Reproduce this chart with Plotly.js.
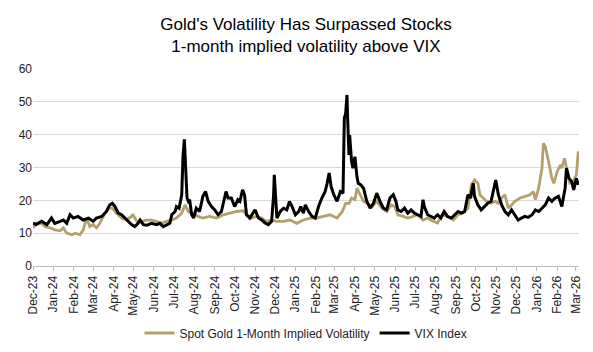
<!DOCTYPE html>
<html>
<head>
<meta charset="utf-8">
<script src="https://cdn.plot.ly/plotly-3.0.1.min.js"></script>
<style>html,body{margin:0;padding:0;background:#fff;}#chart{width:593px;height:352px;}</style>
</head>
<body>
<div id="chart"></div>
<script>
const titleLines = ["Gold's Volatility Has Surpassed Stocks", "1-month implied volatility above VIX"];
const goldName = "Spot Gold 1-Month Implied Volatility";
const vixName = "VIX Index";

const vixDates = ["2023-12-01","2023-12-06","2023-12-14","2023-12-22","2023-12-29","2024-01-03","2024-01-11","2024-01-16","2024-01-21","2024-01-26","2024-01-31","2024-02-07","2024-02-15","2024-02-23","2024-03-01","2024-03-06","2024-03-14","2024-03-21","2024-03-26","2024-03-30","2024-04-03","2024-04-08","2024-04-13","2024-04-18","2024-04-23","2024-04-28","2024-05-03","2024-05-08","2024-05-11","2024-05-16","2024-05-21","2024-05-28","2024-06-05","2024-06-10","2024-06-15","2024-06-20","2024-06-25","2024-06-28","2024-07-03","2024-07-05","2024-07-09","2024-07-13","2024-07-15","2024-07-17","2024-07-19","2024-07-21","2024-07-23","2024-07-25","2024-07-28","2024-07-31","2024-08-04","2024-08-09","2024-08-14","2024-08-18","2024-08-22","2024-08-27","2024-09-01","2024-09-06","2024-09-11","2024-09-14","2024-09-18","2024-09-21","2024-09-26","2024-10-01","2024-10-06","2024-10-09","2024-10-13","2024-10-16","2024-10-19","2024-10-24","2024-11-01","2024-11-06","2024-11-11","2024-11-16","2024-11-21","2024-11-26","2024-11-29","2024-11-30","2024-12-02","2024-12-04","2024-12-09","2024-12-14","2024-12-19","2024-12-23","2024-12-27","2025-01-01","2025-01-06","2025-01-09","2025-01-13","2025-01-16","2025-01-21","2025-01-26","2025-01-31","2025-02-05","2025-02-10","2025-02-15","2025-02-18","2025-02-21","2025-02-24","2025-02-28","2025-03-05","2025-03-10","2025-03-14","2025-03-16","2025-03-18","2025-03-20","2025-03-21","2025-03-23","2025-03-24","2025-03-27","2025-03-29","2025-04-01","2025-04-04","2025-04-06","2025-04-10","2025-04-14","2025-04-19","2025-04-24","2025-04-29","2025-05-04","2025-05-09","2025-05-14","2025-05-19","2025-05-24","2025-05-29","2025-06-02","2025-06-05","2025-06-10","2025-06-15","2025-06-20","2025-06-25","2025-06-30","2025-07-05","2025-07-10","2025-07-13","2025-07-15","2025-07-20","2025-07-25","2025-07-30","2025-08-04","2025-08-09","2025-08-14","2025-08-19","2025-08-25","2025-08-30","2025-09-04","2025-09-09","2025-09-14","2025-09-19","2025-09-23","2025-09-27","2025-09-29","2025-10-04","2025-10-09","2025-10-14","2025-10-19","2025-10-24","2025-10-28","2025-10-31","2025-11-04","2025-11-09","2025-11-14","2025-11-19","2025-11-24","2025-11-29","2025-12-04","2025-12-09","2025-12-14","2025-12-19","2025-12-25","2025-12-30","2026-01-04","2026-01-09","2026-01-14","2026-01-19","2026-01-24","2026-01-29","2026-02-03","2026-02-08","2026-02-13","2026-02-15","2026-02-19","2026-02-23","2026-02-26","2026-03-02","2026-03-05"];
const vixValues = [13.1,12.6,13.6,12.6,14.6,13.0,13.6,14.0,13.0,15.6,14.6,15.1,14.0,14.6,13.6,14.6,15.1,16.6,18.6,19.1,18.1,16.1,15.6,14.6,13.6,12.6,12.0,13.0,14.0,12.6,12.4,13.0,12.6,13.0,12.0,12.6,13.0,15.6,16.6,18.1,17.6,21.7,33.8,38.6,30.8,20.7,19.7,20.2,15.6,14.6,17.6,16.6,21.2,22.7,19.7,18.1,17.1,15.6,16.6,19.7,22.7,20.7,20.7,18.1,20.2,19.7,23.2,21.7,15.6,14.6,17.1,14.6,14.0,13.1,12.6,13.6,21.7,27.8,19.7,14.6,16.6,17.6,17.1,19.7,18.1,15.6,16.6,18.1,16.1,18.6,16.6,15.1,14.6,18.1,20.7,22.7,25.2,28.3,24.2,21.7,19.7,22.7,22.2,45.0,46.5,52.1,45.0,33.8,39.9,31.8,29.8,33.3,27.3,25.2,24.7,23.7,19.7,17.6,19.1,22.2,19.7,17.6,17.1,20.7,21.7,19.7,17.1,16.6,17.6,16.1,17.1,16.1,15.6,15.1,20.2,18.1,15.6,15.1,14.6,15.6,14.6,16.6,15.1,14.6,15.6,16.6,16.1,16.6,21.7,20.7,25.2,21.2,18.6,17.1,18.1,19.1,19.7,23.7,26.2,21.7,18.6,16.6,15.6,17.1,15.6,14.0,14.6,15.1,14.8,15.6,17.1,16.6,17.6,18.6,20.7,19.7,20.7,21.2,18.1,23.7,29.8,26.7,25.7,23.2,26.7,24.7];

const goldDates = ["2023-12-01","2023-12-06","2023-12-14","2023-12-19","2023-12-27","2024-01-03","2024-01-11","2024-01-16","2024-01-21","2024-01-29","2024-02-03","2024-02-10","2024-02-15","2024-02-20","2024-02-25","2024-03-01","2024-03-06","2024-03-11","2024-03-19","2024-03-26","2024-03-30","2024-04-05","2024-04-13","2024-04-20","2024-04-28","2024-04-30","2024-05-06","2024-05-13","2024-05-21","2024-05-28","2024-06-05","2024-06-12","2024-06-20","2024-06-28","2024-07-05","2024-07-13","2024-07-18","2024-07-23","2024-07-30","2024-08-07","2024-08-14","2024-08-24","2024-09-04","2024-09-14","2024-09-24","2024-10-04","2024-10-14","2024-10-19","2024-10-27","2024-11-03","2024-11-11","2024-11-18","2024-11-26","2024-12-04","2024-12-14","2024-12-24","2025-01-03","2025-01-13","2025-01-23","2025-02-02","2025-02-12","2025-02-22","2025-03-05","2025-03-13","2025-03-18","2025-03-23","2025-03-27","2025-04-01","2025-04-04","2025-04-09","2025-04-14","2025-04-19","2025-04-27","2025-05-04","2025-05-12","2025-05-19","2025-05-26","2025-05-31","2025-06-05","2025-06-13","2025-06-20","2025-06-28","2025-07-05","2025-07-13","2025-07-20","2025-07-28","2025-08-04","2025-08-11","2025-08-19","2025-08-28","2025-09-04","2025-09-11","2025-09-19","2025-09-24","2025-09-29","2025-10-04","2025-10-07","2025-10-12","2025-10-17","2025-10-24","2025-10-30","2025-11-04","2025-11-09","2025-11-14","2025-11-19","2025-11-24","2025-11-29","2025-12-07","2025-12-14","2025-12-22","2025-12-27","2025-12-30","2026-01-04","2026-01-09","2026-01-11","2026-01-14","2026-01-19","2026-01-24","2026-01-27","2026-02-01","2026-02-06","2026-02-08","2026-02-12","2026-02-15","2026-02-20","2026-02-25","2026-03-02","2026-03-05"];
const goldValues = [11.6,13.1,13.0,12.0,11.6,11.0,10.7,11.6,10.0,9.5,10.0,9.5,11.0,14.6,12.0,12.6,11.6,13.0,16.1,17.6,17.6,16.1,14.6,14.0,15.1,15.8,13.6,13.6,14.0,14.0,13.6,13.0,13.6,14.0,14.6,16.1,18.6,16.6,16.1,15.1,14.6,15.1,14.6,15.6,16.1,16.6,16.8,15.6,14.6,15.1,14.6,13.6,14.0,13.6,13.6,14.0,13.0,14.0,14.6,14.6,15.1,15.6,14.6,16.6,19.1,19.1,20.7,20.2,23.7,21.7,19.7,19.1,18.1,19.7,17.6,16.6,18.6,18.1,15.6,15.1,14.6,15.1,15.6,14.0,14.6,13.6,13.1,15.6,15.1,14.0,15.6,16.1,17.6,24.7,26.2,25.2,21.7,20.7,19.7,19.1,19.7,19.1,20.7,21.7,17.6,18.6,19.7,20.7,21.2,21.7,22.7,20.2,23.7,29.8,37.4,36.4,31.8,26.7,25.2,28.8,30.8,29.8,32.8,29.8,25.2,25.7,27.8,34.9];

const yTicks = [0, 10, 20, 30, 40, 50, 60];

const font = "'Liberation Sans', Arial, sans-serif";

const traces = [
  {
    x: goldDates, y: goldValues, name: goldName, type: 'scatter', mode: 'lines',
    line: {color: '#B3A06B', width: 2.8}
  },
  {
    x: vixDates, y: vixValues, name: vixName, type: 'scatter', mode: 'lines',
    line: {color: '#000000', width: 3}
  }
];

const layout = {
  width: 593, height: 352,
  margin: {l: 33, r: 14, t: 69, b: 86, autoexpand: false},
  paper_bgcolor: '#ffffff', plot_bgcolor: '#ffffff',
  font: {family: font, color: '#000', size: 12},
  title: {
    text: titleLines.join('<br>'),
    font: {family: font, size: 17, color: '#000'},
    x: 0.5, xanchor: 'center', xref: 'paper',
    yref: 'container', y: 0.915, yanchor: 'middle'
  },
  showlegend: true,
  legend: {
    orientation: 'h', x: 0.5, xanchor: 'center',
    yref: 'container', y: 0.054, yanchor: 'middle',
    font: {family: font, size: 12, color: '#222'},
    traceorder: 'normal', itemwidth: 30
  },
  xaxis: {
    type: 'date', automargin: false,
    range: ['2023-12-01', '2026-03-06'],
    dtick: 'M1', tick0: '2023-12-01',
    tickformat: '%b-%y', tickangle: -90,
    ticks: 'outside', ticklen: 4, tickcolor: '#BFBFBF',
    showline: true, linecolor: '#BFBFBF', linewidth: 1,
    showgrid: false, zeroline: false,
    tickfont: {family: font, size: 12, color: '#222'}
  },
  yaxis: {
    range: [0, 60], tickvals: yTicks, automargin: false,
    showgrid: true, gridcolor: '#D9D9D9', gridwidth: 1,
    zeroline: false, showline: false, ticks: '',
    tickfont: {family: font, size: 12, color: '#222'}
  }
};

Plotly.newPlot('chart', traces, layout, {displayModeBar: false, staticPlot: true});
</script>
</body>
</html>
